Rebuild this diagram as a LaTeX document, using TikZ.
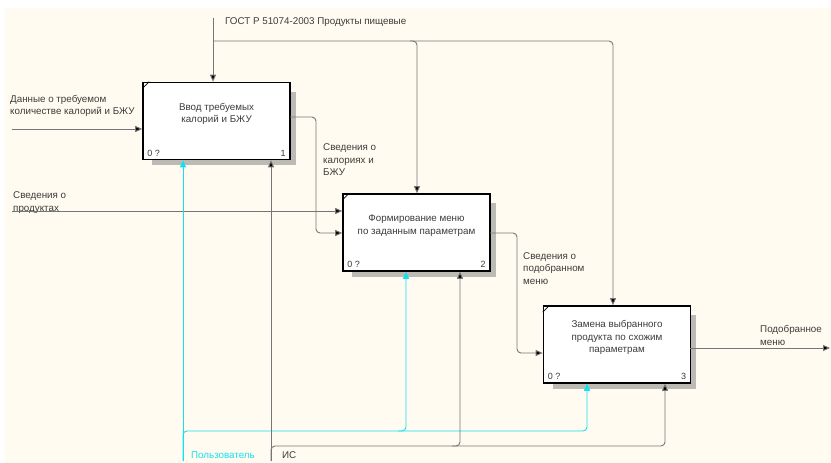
\documentclass[tikz,border=0pt]{standalone}
\usepackage{fontspec}
\setmainfont{Liberation Sans}
\usetikzlibrary{arrows.meta,calc}
\definecolor{bgcream}{RGB}{255,251,240}
\definecolor{linegray}{RGB}{118,118,118}
\definecolor{txtgray}{RGB}{60,60,60}
\definecolor{shadowgray}{RGB}{188,186,180}
\definecolor{mechcyan}{RGB}{20,225,240}
\begin{document}
\begin{tikzpicture}[x=1pt,y=-1pt,
  funcbox/.style={draw=black,line width=1.6pt,fill=white,minimum width=147pt,minimum height=77pt,inner sep=0pt},
  boxtext/.style={font=\fontsize{9.8}{12.5}\selectfont,text=txtgray,align=center},
  lbl/.style={font=\fontsize{9.8}{12.5}\selectfont,text=txtgray,align=left,inner sep=0pt},
  cornum/.style={font=\fontsize{9}{10}\selectfont,text=txtgray,inner sep=0pt},
  conn/.style={draw=linegray,line width=0.9pt,rounded corners=4pt},
  arr/.style={-{Triangle[length=7pt,width=6pt,fill=black]}},
  mech/.style={draw=mechcyan,line width=0.9pt,rounded corners=4pt},
  marr/.style={-{Triangle[length=7pt,width=6pt,fill=mechcyan]}}
]
\useasboundingbox (0,0) rectangle (831,463);
\fill[white] (0,0) rectangle (831,463);
\fill[bgcream] (5,8) rectangle (831,463);

% shadows
\fill[shadowgray] (152,92) rectangle (296,165);
\fill[shadowgray] (352,203) rectangle (496,277);
\fill[shadowgray] (553,315) rectangle (696,389);

% boxes
\node[funcbox] (b1) at (216.5,121) {};
\node[funcbox] (b2) at (416.5,232.5) {};
\node[funcbox] (b3) at (617,344.5) {};

\foreach \b/\n in {b1/1,b2/2,b3/3}{
  \draw[black,line width=0.7pt] ($(\b.north west)+(0,7)$) -- ($(\b.north west)+(7,0)$);
  \node[cornum,anchor=south west] at ($(\b.south west)+(5,-4)$) {0 ?};
  \node[cornum,anchor=south east] at ($(\b.south east)+(-5,-4)$) {\n};
}

\node[boxtext] (t1) at ($(b1.center)+(0,-7)$) {Ввод требуемых\\калорий и БЖУ};
\node[boxtext] (t2) at ($(b2.center)+(0,-7)$) {Формирование меню\\по заданным параметрам};
\node[boxtext] (t3) at ($(b3.center)+(0,-7)$) {Замена выбранного\\продукта по схожим\\параметрам};

% control
\node[lbl,anchor=west] (gost) at (225,22) {ГОСТ Р 51074-2003 Продукты пищевые};
\coordinate (gA) at (213,18);
\coordinate (gJ) at (213,41);
\coordinate (g2) at (417,41);
\coordinate (g2s) at (410,41);
\coordinate (g3) at (613,41);
\draw[conn,arr] (gA) -- (gA |- b1.north);
\draw[conn,arr] (gJ) -- (g3) -- (g3 |- b3.north);
\draw[conn,arr] (g2s) -- (g2) -- (g2 |- b2.north);

% inputs
\node[lbl,anchor=west] (in1) at (10,106) {Данные о требуемом\\количестве калорий и БЖУ};
\coordinate (in1s) at (12,129);
\draw[conn,arr] (in1s) -- (in1s -| b1.west);

\node[lbl,anchor=west] (in2) at (13,202.5) {Сведения о\\продуктах};
\coordinate (in2s) at (12,211);
\draw[conn,arr] (in2s) -- (in2s -| b2.west);

% outputs
\coordinate (o1) at (290,117);
\coordinate (o1a) at (316,117);
\coordinate (o1b) at (316,233);
\draw[conn,arr] (o1) -- (o1a) -- (o1b) -- (o1b -| b2.west);
\node[lbl,anchor=west] (lo1) at (323,160) {Сведения о\\калориях и\\БЖУ};

\coordinate (o2) at (490,233);
\coordinate (o2a) at (517,233);
\coordinate (o2b) at (517,353);
\draw[conn,arr] (o2) -- (o2a) -- (o2b) -- (o2b -| b3.west);
\node[lbl,anchor=west] (lo2) at (523,268.5) {Сведения о\\подобранном\\меню};

\coordinate (o3) at (690,348);
\coordinate (o3e) at (830,348);
\draw[conn,arr] (o3) -- (o3e);
\node[lbl,anchor=west] (lo3) at (760,335.5) {Подобранное\\меню};

% mechanisms: user (cyan)
\coordinate (uB) at (183,461);
\coordinate (uJ) at (183,431);
\coordinate (u2s) at (398,431);
\coordinate (u2) at (406,431);
\coordinate (u3) at (587,431);
\draw[mech,marr] (uB) -- (uB |- b1.south);
\draw[mech,marr] (uB) -- (uJ) -- (u3) -- (u3 |- b3.south);
\draw[mech,marr] (u2s) -- (u2) -- (u2 |- b2.south);
\node[lbl,anchor=west,text=mechcyan] (user) at (191,455) {Пользователь};

% mechanisms: IS (gray)
\coordinate (iB) at (271,461);
\coordinate (iJ) at (271,446);
\coordinate (i2s) at (452,446);
\coordinate (i2) at (460,446);
\coordinate (i3) at (665,446);
\draw[conn,arr] (iB) -- (iB |- b1.south);
\draw[conn,arr] (iB) -- (iJ) -- (i3) -- (i3 |- b3.south);
\draw[conn,arr] (i2s) -- (i2) -- (i2 |- b2.south);
\node[lbl,anchor=west] (is) at (282,455) {ИС};
\end{tikzpicture}
\end{document}
